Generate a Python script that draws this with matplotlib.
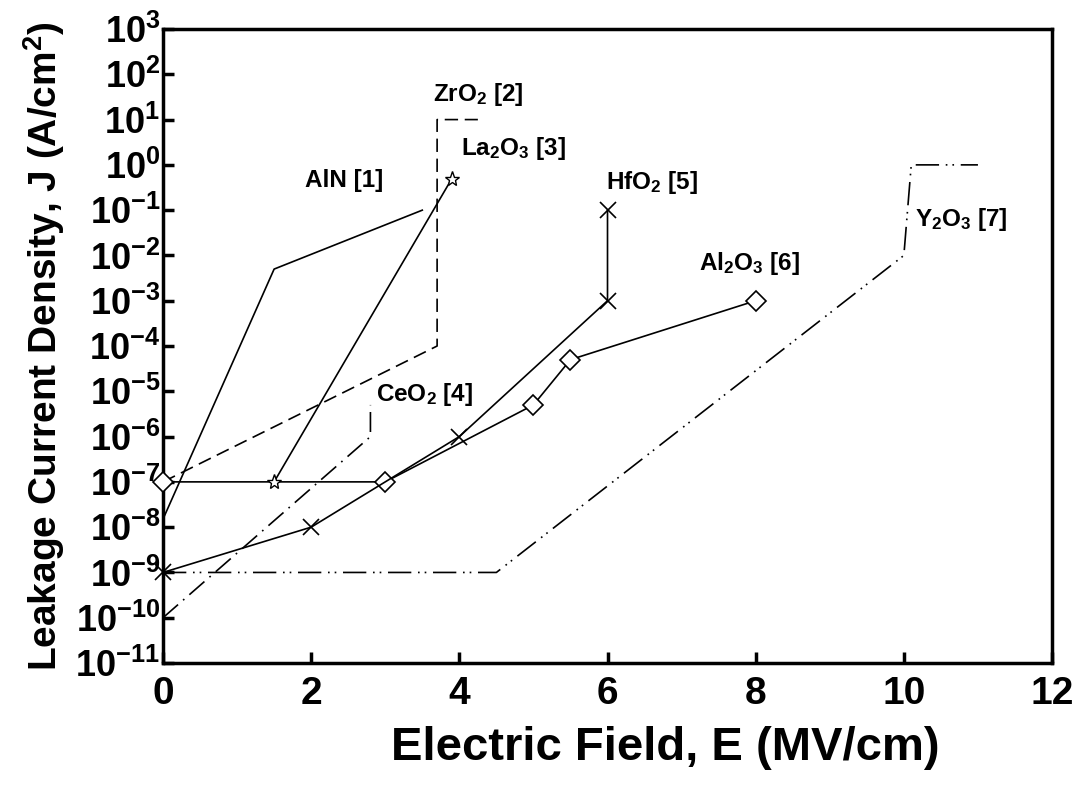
import math
import matplotlib
matplotlib.use("Agg")
import matplotlib.pyplot as plt
from matplotlib.ticker import FixedLocator, FuncFormatter

plt.rcParams['font.family'] = ['Liberation Sans', 'DejaVu Sans']
plt.rcParams['font.weight'] = 'bold'
plt.rcParams['mathtext.fontset'] = 'custom'
plt.rcParams['mathtext.rm'] = 'Liberation Sans:bold'
plt.rcParams['mathtext.bf'] = 'Liberation Sans:bold'
plt.rcParams['mathtext.it'] = 'Liberation Sans:bold:italic'
plt.rcParams['mathtext.default'] = 'rm'

# ---- data (E in MV/cm, J in A/cm^2) ----
aln_x = [0, 1.5, 3.5]
aln_y = [1.5e-8, 5e-3, 1e-1]

zro2_x = [0, 3.7, 3.7, 4.25]
zro2_y = [1e-7, 1e-4, 10, 10]

la2o3_x = [1.5, 3.9]
la2o3_y = [1e-7, 0.5]

ceo2_x = [0, 2.8, 2.8]
ceo2_y = [1e-10, 1e-6, 5e-6]

hfo2_x = [0, 2, 4, 6, 6]
hfo2_y = [1e-9, 1e-8, 1e-6, 1e-3, 1e-1]

al2o3_x = [0, 3, 5, 5.5, 8]
al2o3_y = [1e-7, 1e-7, 5e-6, 5e-5, 1e-3]

y2o3_x = [0, 4.5, 10, 10.1, 11]
y2o3_y = [1e-9, 1e-9, 1e-2, 1, 1]

labels = ["AlN [1]", r"ZrO$_2$ [2]", r"La$_2$O$_3$ [3]", r"CeO$_2$ [4]",
          r"HfO$_2$ [5]", r"Al$_2$O$_3$ [6]", r"Y$_2$O$_3$ [7]"]
label_x = [1.92, 3.64, 4.02, 2.87, 5.98, 7.23, 10.15]
label_y = [0.46, 35, 2.3, 8.3e-6, 0.4, 6.5e-3, 0.063]

x_ticks = [0, 2, 4, 6, 8, 10, 12]
y_exps = list(range(-11, 4))

fig = plt.figure(figsize=(10.83, 7.97), dpi=100)
ax = fig.add_axes([0.1505, 0.1681, 0.8209, 0.7955])

lw = 1.2
ax.plot(aln_x, aln_y, color='black', lw=lw, clip_on=False)
ax.plot(zro2_x, zro2_y, color='black', lw=lw, linestyle=(0, (8, 4)))
ax.plot(ceo2_x, ceo2_y, color='black', lw=lw, linestyle=(0, (12, 4, 1, 4)))
ax.plot(y2o3_x, y2o3_y, color='black', lw=lw, linestyle=(0, (14, 4, 1, 3, 1, 4)))
ax.plot(al2o3_x, al2o3_y, color='black', lw=lw, marker='D', markersize=10,
        markerfacecolor='white', markeredgecolor='black', markeredgewidth=1.2,
        clip_on=False, zorder=4)
ax.plot(hfo2_x, hfo2_y, color='black', lw=lw, marker='x', markersize=11,
        markeredgewidth=1.2, clip_on=False, zorder=5)
ax.plot(la2o3_x, la2o3_y, color='black', lw=lw, marker='*', markersize=11,
        markerfacecolor='white', markeredgecolor='black', markeredgewidth=1.0,
        zorder=6)

for t, tx, ty in zip(labels, label_x, label_y):
    ax.text(tx, ty, t, fontsize=17.5, fontweight='bold', ha='left', va='center')

ax.set_xlim(0, 12)
ax.set_yscale('log')
ax.set_ylim(1e-11, 1e3)
ax.xaxis.set_major_locator(FixedLocator(x_ticks))
ax.yaxis.set_major_locator(FixedLocator([10.0 ** e for e in y_exps]))
ax.yaxis.set_minor_locator(FixedLocator([]))
ax.yaxis.set_major_formatter(FuncFormatter(
    lambda v, p: r"$\mathregular{10^{%d}}$" % round(math.log10(v))))
ax.xaxis.set_major_formatter(FuncFormatter(lambda v, p: "%d" % v))

ax.tick_params(axis='both', direction='in', length=8, width=2.5)
ax.tick_params(axis='x', labelsize=28, pad=9)
ax.tick_params(axis='y', labelsize=26, pad=2)
for lab in ax.get_xticklabels() + ax.get_yticklabels():
    lab.set_fontweight('bold')
for s in ax.spines.values():
    s.set_linewidth(2.5)

ax.set_xlabel("Electric Field, E (MV/cm)", fontsize=34, fontweight='bold')
ax.xaxis.set_label_coords(0.565, -0.100)
ax.set_ylabel(r"Leakage Current Density, J (A/cm$^2$)", fontsize=28,
              fontweight='bold', labelpad=6)

fig.savefig("out.png", dpi=100)
